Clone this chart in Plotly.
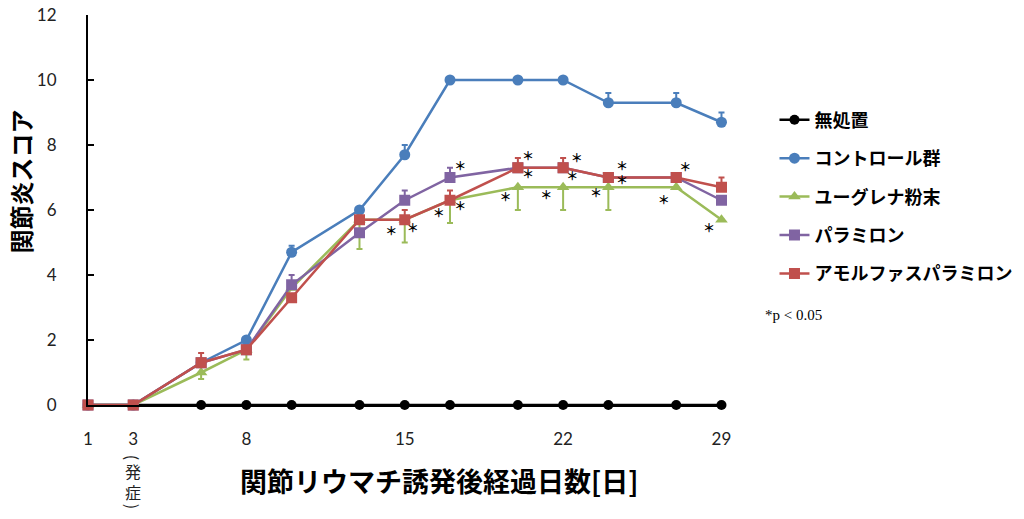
import plotly.graph_objects as go

days = [1, 3, 6, 8, 10, 13, 15, 17, 20, 22, 24, 27, 29]

no_treatment = [0, 0, 0, 0, 0, 0, 0, 0, 0, 0, 0, 0, 0]
control = [0, 0, 1.3, 2.0, 4.7, 6.0, 7.7, 10, 10, 10, 9.3, 9.3, 8.7]
control_err = [0, 0, 0, 0, 0.2, 0, 0.3, 0, 0, 0, 0.3, 0.3, 0.3]
euglena = [0, 0, 1.0, 1.7, 3.6, 5.7, 5.7, 6.3, 6.7, 6.7, 6.7, 6.7, 5.7]
euglena_err = [0, 0, 0.2, 0.3, 0, 0.9, 0.7, 0.7, 0.7, 0.7, 0.7, 0, 0]
paramylon = [0, 0, 1.3, 1.7, 3.7, 5.3, 6.3, 7.0, 7.3, 7.3, 7.0, 7.0, 6.3]
paramylon_err = [0, 0, 0, 0, 0.3, 0, 0.3, 0.3, 0, 0, 0, 0, 0]
amorphous = [0, 0, 1.3, 1.7, 3.3, 5.7, 5.7, 6.3, 7.3, 7.3, 7.0, 7.0, 6.7]
amorphous_err = [0, 0, 0.3, 0, 0, 0, 0.3, 0.3, 0.3, 0.3, 0, 0, 0.3]

# significance marks (*p < 0.05)
star_x = [14.4, 15.35, 16.5, 17.45, 17.45, 19.45, 20.45, 20.45, 21.25, 22.6,
          22.4, 23.45, 24.6, 24.6, 26.45, 27.4, 28.45, 29.5, 29.5]
star_y = [5.3, 5.4, 5.85, 6.05, 7.3, 6.35, 7.6, 7.05, 6.4, 7.55,
          7.0, 6.45, 7.3, 6.85, 6.25, 7.25, 5.4, 6.65, 6.2]

x_ticks = [1, 3, 8, 15, 22, 29]

JP = "Noto Sans CJK JP"
NUM = "Lato, Noto Sans, sans-serif"

series = [
    ("無処置", no_treatment, None, "down", "#000000", "circle", 10),
    ("コントロール群", control, control_err, "up", "#4A7EBB", "circle", 11),
    ("ユーグレナ粉末", euglena, euglena_err, "down", "#9BBB59", "triangle-up", 11),
    ("パラミロン", paramylon, paramylon_err, "up", "#8064A2", "square", 11),
    ("アモルファスパラミロン", amorphous, amorphous_err, "up", "#C0504D", "square", 11),
]

fig = go.Figure()
for i, (name, vals, err, direction, color, symbol, size) in enumerate(series):
    err_y = None
    if err is not None:
        zeros = [0] * len(err)
        err_y = dict(
            type="data", symmetric=False,
            array=err if direction == "up" else zeros,
            arrayminus=zeros if direction == "up" else err,
            color=color, thickness=2, width=3,
        )
    fig.add_trace(go.Scatter(
        x=days, y=vals, name=name, mode="lines+markers",
        line=dict(color=color, width=2.5),
        marker=dict(color=color, symbol=symbol, size=size),
        error_y=err_y, cliponaxis=False, legendgroup=str(i),
    ))

fig.add_trace(go.Scatter(
    x=star_x, y=star_y, mode="text", text=["＊"] * len(star_x),
    textfont=dict(family=JP, size=12, color="#000000", weight="bold"),
    showlegend=False, hoverinfo="skip", cliponaxis=False,
))

# the page body has an 8px margin, so the figure is 8px smaller than the window
PLOT_H = 390
fig.update_layout(
    width=1016, height=511, autosize=False,
    margin=dict(l=80, r=298, t=7, b=114),
    plot_bgcolor="white", paper_bgcolor="white",
    font=dict(family=NUM, color="#222222"),
    xaxis=dict(
        range=[1, 29.2], tickmode="array", tickvals=x_ticks,
        showline=True, linecolor="#000000", linewidth=2,
        showgrid=False, zeroline=False, ticks="", automargin=False,
        tickfont=dict(size=17, family=NUM), ticklabelstandoff=18,
    ),
    yaxis=dict(
        range=[0, 12], dtick=2, showline=True, linecolor="#000000", linewidth=2,
        showgrid=False, zeroline=False, ticks="inside", ticklen=6,
        tickcolor="#000000", tickwidth=1.5, automargin=False,
        ticklabeloverflow="allow",
        tickfont=dict(size=17, family=NUM), ticklabelstandoff=26,
    ),
    legend=dict(
        x=1.076, y=0.778, xanchor="left", yanchor="top",
        font=dict(family=JP, size=18, color="#000000", weight="bold"),
        tracegroupgap=12, itemwidth=30, bgcolor="rgba(0,0,0,0)",
    ),
    showlegend=True,
)

fig.add_annotation(
    text="関節炎スコア", xref="paper", yref="paper", x=-0.106, y=0.574,
    textangle=-90, showarrow=False, xanchor="center", yanchor="middle",
    font=dict(family=JP, size=24, color="#000000", weight="bold"),
)
fig.add_annotation(
    text="関節リウマチ誘発後経過日数[日]", xref="paper", yref="paper",
    x=0.55, y=-75 / PLOT_H, showarrow=False, xanchor="center", yanchor="middle",
    font=dict(family=JP, size=27, color="#000000", weight="bold"),
)
# vertical "(発症)" under day 3; parentheses are turned 90 degrees
onset_font = dict(family=JP, size=16, color="#222222")
fig.add_annotation(
    text="(", xref="x", yref="paper", x=3, y=-52 / PLOT_H, textangle=90,
    showarrow=False, xanchor="center", yanchor="middle", font=onset_font,
)
fig.add_annotation(
    text="発<br>症", xref="x", yref="paper", x=3, y=-76 / PLOT_H,
    showarrow=False, xanchor="center", yanchor="middle", font=onset_font,
)
fig.add_annotation(
    text=")", xref="x", yref="paper", x=3, y=-101 / PLOT_H, textangle=90,
    showarrow=False, xanchor="center", yanchor="middle", font=onset_font,
)
fig.add_annotation(
    text="*p < 0.05", xref="paper", yref="paper", x=1.058, y=0.232,
    showarrow=False, xanchor="left", yanchor="middle",
    font=dict(family="Liberation Serif", size=15, color="#000000"),
)

fig.write_html("out.html")
